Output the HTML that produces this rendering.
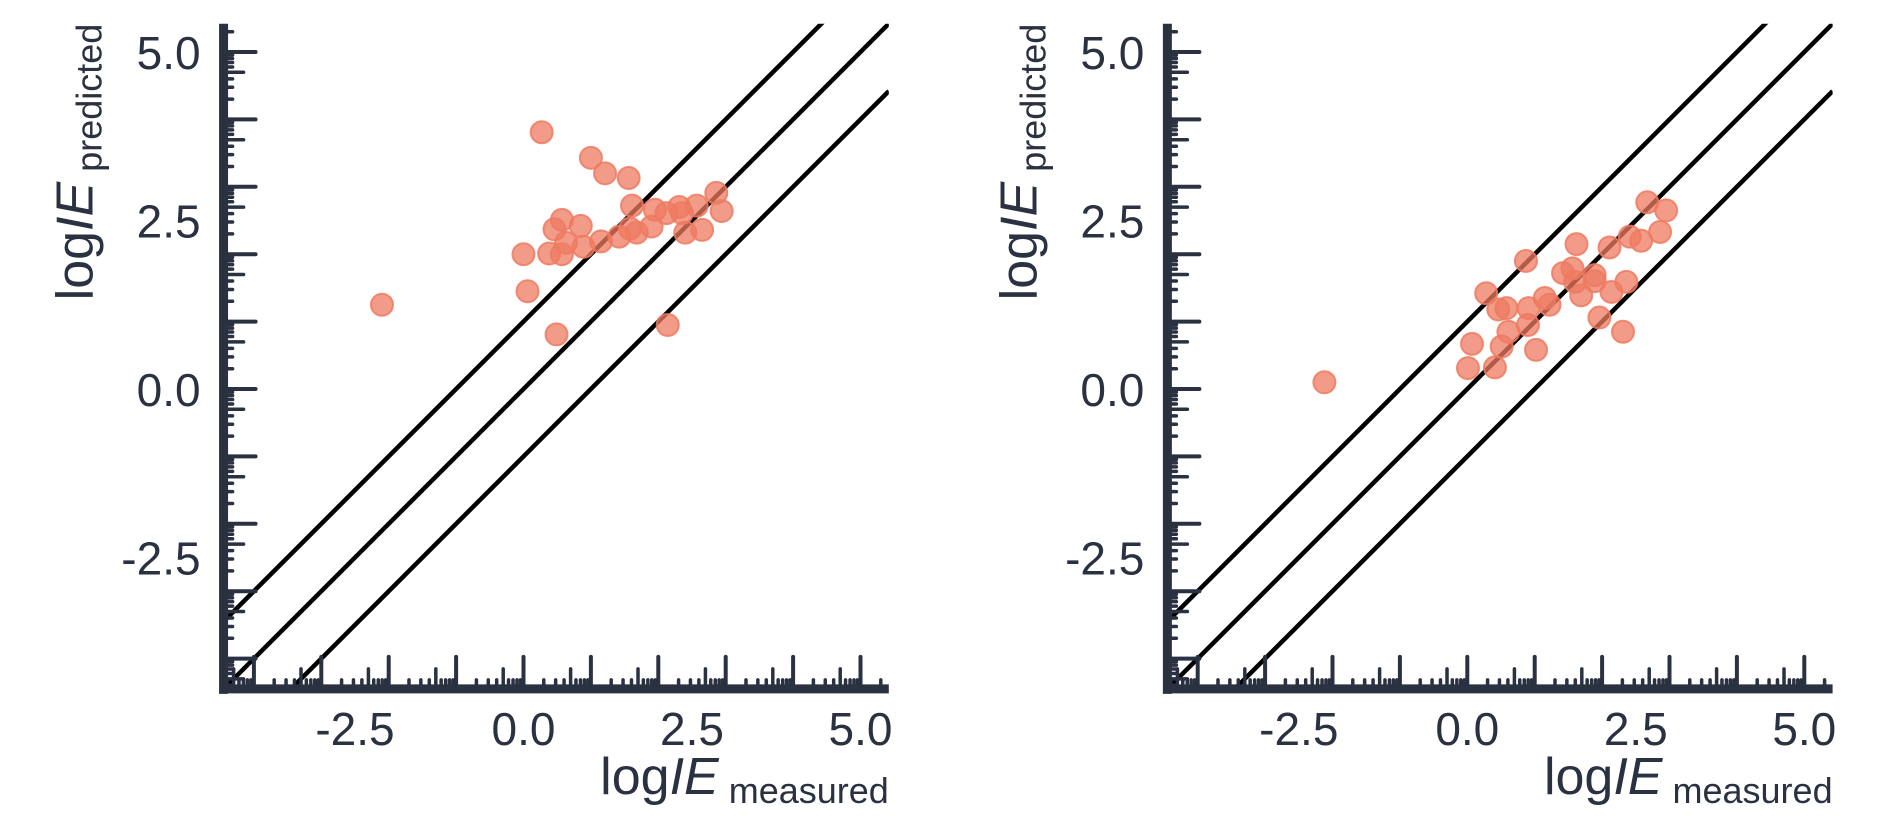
<!DOCTYPE html>
<html><head><meta charset="utf-8"><style>
html,body{margin:0;padding:0;background:#fff;}
svg{display:block;font-family:"Liberation Sans",sans-serif;}
</style></head><body>
<svg id="chart" width="1889" height="826" viewBox="0 0 1889 826"></svg>
<script>
const leftX = [0.27,1.00,1.21,1.56,1.61,0.57,0.46,0.85,0.63,0.00,0.38,0.57,0.89,1.15,1.42,1.58,1.68,1.90,1.95,2.12,2.31,2.35,2.57,2.86,2.94,2.40,2.65,0.06,0.49,2.14,-2.10];
const leftY = [3.81,3.43,3.20,3.13,2.72,2.51,2.37,2.42,2.17,2.00,2.01,2.00,2.11,2.19,2.26,2.38,2.32,2.41,2.66,2.61,2.70,2.61,2.72,2.91,2.64,2.32,2.36,1.45,0.81,0.95,1.25];
const rightX = [2.67,2.95,2.86,2.41,2.58,1.62,2.11,0.87,1.56,1.42,1.89,2.36,1.60,1.89,2.14,1.69,0.28,0.46,0.58,0.91,1.15,1.22,1.96,0.90,0.61,0.51,0.07,1.02,2.31,0.01,0.41,-2.12];
const rightY = [2.77,2.65,2.33,2.26,2.20,2.15,2.10,1.90,1.79,1.72,1.69,1.59,1.59,1.60,1.44,1.39,1.42,1.18,1.20,1.20,1.35,1.25,1.06,0.95,0.85,0.63,0.67,0.58,0.85,0.31,0.32,0.10];
const tickLabels = [-2.5, 0.0, 2.5, 5.0];
const refOffsets = [1, 0, -1];
const domainMin = -4.45, domainMax = 5.42;

const NS = "http://www.w3.org/2000/svg";
const svg = document.getElementById('chart');
const INK = '#2a3140';
function mk(tag, attrs, parent){const e=document.createElementNS(NS,tag);for(const k in attrs)e.setAttribute(k,attrs[k]);parent.appendChild(e);return e;}

function drawPanel(idx, x0, xs, ys){
  const y0 = 389, s = 67.4;
  const left = x0 + domainMin*s, right = x0 + domainMax*s;
  const top = y0 - domainMax*s, bottom = y0 - domainMin*s;
  const X = v => x0 + v*s, Y = v => y0 - v*s;
  const g = mk('g', {}, svg);
  
  
  const cid = 'clip' + idx;
  const cp = mk('clipPath', {id: cid}, mk('defs', {}, g));
  mk('rect', {x: left, y: top, width: right-left, height: bottom-top}, cp);
  refOffsets.forEach((o, i) => {
    const l = mk('line', {x1: X(domainMin), y1: Y(domainMin+o), x2: X(domainMax), y2: Y(domainMax+o), stroke:'#000', 'stroke-width':4.5, 'clip-path':`url(#${cid})`}, g);
    
    
  });
  xs.forEach((v, i) => {
    const c = mk('circle', {cx: X(v), cy: Y(ys[i]), r: 11, fill:'#ee7a60', 'fill-opacity':0.75, stroke:'#ee7a60', 'stroke-opacity':0.85, 'stroke-width':2}, g);
    
    
  });
  const tg = mk('g', {stroke: INK, 'stroke-linecap':'round'}, g);
  
  
  for (let n = -5; n <= 5; n++) {
    for (let k = 1; k <= 9; k++) {
      const v = n + Math.log10(k);
      if (v < domainMin || v > domainMax) continue;
      const len = k === 1 ? 32 : (k === 5 ? 20 : 9);
      const w = k === 1 ? 4 : 3.5;
      mk('line', {x1: left, x2: left + len, y1: Y(v), y2: Y(v), 'stroke-width': w}, tg);
      mk('line', {x1: X(v), x2: X(v), y1: bottom, y2: bottom - len, 'stroke-width': w}, tg);
    }
  }
  const ya = mk('line', {x1: left, y1: top, x2: left, y2: bottom+5, stroke: INK, 'stroke-width': 9}, g);
  
  
  const xa = mk('line', {x1: left-4, y1: bottom, x2: right, y2: bottom, stroke: INK, 'stroke-width': 9}, g);
  
  
  tickLabels.forEach(t => {
    const ty = mk('text', {x: left - 23, y: Y(t) + 17, 'text-anchor':'end', 'font-size': 46, fill: INK}, g);
    ty.textContent = t.toFixed(1);
    
    
    const tx = mk('text', {x: X(t), y: 745, 'text-anchor':'middle', 'font-size': 46, fill: INK}, g);
    tx.textContent = t.toFixed(1);
    
    
  });
  const xt = mk('text', {x: right, y: 794, 'text-anchor':'end', 'font-size': 52, fill: INK}, g);
  xt.innerHTML = 'log<tspan font-style="italic">IE</tspan><tspan font-size="36" dy="9"> measured</tspan>';
  
  
  const ytl = mk('text', {x: 0, y: 0, 'text-anchor':'end', 'font-size': 52, fill: INK, transform:`translate(${left-131},${top}) rotate(-90)`}, g);
  ytl.innerHTML = 'log<tspan font-style="italic">IE</tspan><tspan font-size="36" dy="9"> predicted</tspan>';
  
  
}
drawPanel(0, 523.5, leftX, leftY);
drawPanel(1, 1467.3, rightX, rightY);
</script>
</body></html>
